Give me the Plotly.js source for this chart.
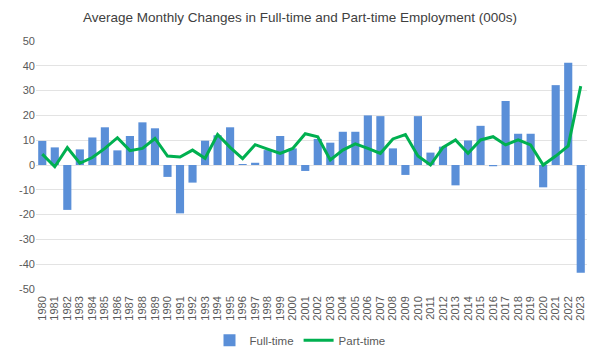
<!DOCTYPE html>
<html>
<head>
<meta charset="utf-8">
<script src="https://cdn.plot.ly/plotly-3.0.1.min.js"></script>
<style>html,body{margin:0;padding:0;background:#fff;}#chart{width:600px;height:360px;}</style>
</head>
<body>
<div id="chart"></div>
<script>
const years = ["1980","1981","1982","1983","1984","1985","1986","1987","1988","1989","1990","1991","1992","1993","1994","1995","1996","1997","1998","1999","2000","2001","2002","2003","2004","2005","2006","2007","2008","2009","2010","2011","2012","2013","2014","2015","2016","2017","2018","2019","2020","2021","2022","2023"];
const fullTime = [9.7,7.1,-18.1,6.3,11.1,15.2,5.9,11.7,17.2,14.8,-4.8,-19.5,-7.1,9.8,12.0,15.2,0.4,0.9,6.0,11.7,6.7,-2.4,10.5,9.0,13.4,13.4,20.0,19.7,6.7,-4.0,19.7,5.0,7.4,-8.2,9.9,15.8,-0.5,25.8,12.6,12.6,-9.0,32.2,41.2,-43.4];
const partTime = [4.4,-0.7,7.0,0.7,3.0,6.7,11.0,5.8,6.7,10.7,3.6,3.2,6.0,2.7,12.3,7.1,2.6,8.2,6.4,4.7,6.7,12.6,11.4,2.0,6.0,8.5,6.7,4.7,10.5,12.3,3.6,0.0,7.1,10.1,4.7,10.1,11.4,8.1,10.1,8.1,0.0,3.6,7.7,31.8];
const yTicks = [-50,-40,-30,-20,-10,0,10,20,30,40,50];

const font = {family: "Liberation Sans, Arial, sans-serif", color: "#595959"};
const data = [
  {type: "bar", name: "Full-time", x: years, y: fullTime, marker: {color: "#5a8fd8"}},
  {type: "scatter", mode: "lines", name: "Part-time", x: years, y: partTime, line: {color: "#00b050", width: 3}}
];
const layout = {
  width: 600, height: 360,
  margin: {l: 36, r: 13, t: 41, b: 71},
  paper_bgcolor: "#fff", plot_bgcolor: "#fff",
  title: {text: "Average Monthly Changes in Full-time and Part-time Employment (000s)", x: 0.5, xanchor: "center", y: 0.952, yanchor: "middle", font: {family: font.family, size: 13.5, color: "#404040"}},
  bargap: 0.35,
  showlegend: true,
  legend: {orientation: "h", xref: "container", yref: "container", x: 0.5, xanchor: "center", y: 0.055, yanchor: "middle", font: {family: font.family, size: 11.5, color: "#595959"}},
  xaxis: {type: "category", tickmode: "array", tickvals: years, ticktext: years, tickangle: -90, tickfont: {family: font.family, size: 11, color: "#595959"}, showgrid: false, showline: false, ticks: "", ticklabelstandoff: 4, automargin: false},
  yaxis: {range: [-50, 50], tickmode: "array", tickvals: yTicks, ticktext: yTicks.map(String), tickfont: {family: font.family, size: 11, color: "#595959"}, gridcolor: "#e3e3e3", gridwidth: 1, zeroline: true, zerolinecolor: "#e3e3e3", zerolinewidth: 1, showline: false, ticks: "", automargin: false}
};
Plotly.newPlot("chart", data, layout, {displayModeBar: false, staticPlot: true});
</script>
</body>
</html>
